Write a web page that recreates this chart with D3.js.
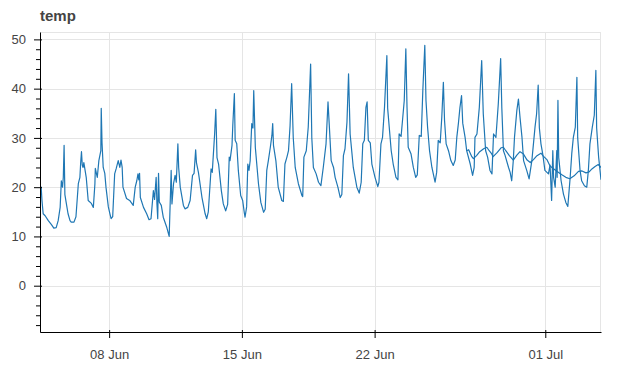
<!DOCTYPE html>
<html>
<head>
<meta charset="utf-8">
<script src="https://cdn.jsdelivr.net/npm/d3@7"></script>
<style>
  body { margin: 0; background: #fff; }
  svg { display: block; font-family: "Liberation Sans", Arial, sans-serif; }
</style>
</head>
<body>
<svg id="chart"></svg>
<script>
// hours are counted from 04 Jun 00:00
const startDate = new Date(2020, 5, 4);

const hours = [8.5,10,11,12.5,15,19,23,26,29,31.5,34,35.5,37,38,39,40,41.5,44,46.5,48,51.5,54,57,59,60,61,62,63,64,67,69.5,73.5,76,78,78.5,81,83,85.5,86,87,88.5,90.5,92,95,97,98.5,100.5,103,105,107.5,109.5,111,112.5,113.5,118,122,126.5,129,131,132.5,133.5,134.5,135.5,139.5,143.5,146.5,149,152,153.5,155.5,156.5,157.5,158.5,159.5,162,164.5,169,172,174.5,175.5,177.5,179.5,181,183,184,186,190,192,195.5,198.5,201.5,203.5,205.5,206.5,209,213.5,217.5,219.5,221.5,225,226.5,229.5,231,232.5,234.5,238,240.5,243.5,246,248,249,251.5,252.5,254.5,255.5,257.5,259.5,262.5,265,267,268,270,271.5,273,274.5,276.5,278,279,281,285,288,291.5,293.5,295.5,297.5,300,302,303,304,307,310,314.5,316.5,318.5,321,323,325,327,329,331.5,335.5,340,341,342.5,345.5,348,351,352.5,354.5,358,361,364,367,370.5,371.5,373,374.5,377,380,382,385.5,388.5,390.5,392.5,394.5,397,399,401,405,409.5,412.5,415,417,419,421,422.5,424,426.5,428.5,432.5,436,437.5,440,442,444.5,447.5,448.5,453,455.5,459,461.5,463,465.5,469.5,471.5,473,474.5,478,481,484,486,488.5,491,493,495.5,497,499,501.5,504.5,508.5,510.5,512.5,515,517,519,520.5,522.5,525.5,528.5,531.5,534,536,538,540,542,543.5,546.5,548.5,553,556,558,559,561.5,564.5,567.5,569.5,572.5,575,578,580.5,582.5,585.5,588.5,591.5,593,595,597,601.5,603.5,605.5,607.5,609,612,614,616,618.5,620.5,624.5,627.5,631,633,635,637,639,640.5,642.5,645,647.5,652,654,656,657.5,658.5,660.5,662.5,663,664,665,668,671,674,676.5,679.5,681.5,683.5,686,688,689,692,694,697.5,700.5,702.5,704.5,707.5,710,712,713,715.5,718.5];

const temps = [19.0,20.0,17.3,14.6,14.2,13.2,12.4,11.7,11.8,13.2,15.9,21.3,20,22,28.5,18.5,17,14.6,13.2,12.9,12.9,14,20.7,22,25,27.2,24.5,24,25,22,17.3,16.7,15.9,20.7,23.8,22,25.4,27.4,36,29,24,22.8,20,16,14.6,13.6,14,22.7,23.8,25.4,24,25.5,24,20,17.7,17.3,16.3,20,21.3,22.7,21.5,22.8,17.9,15.9,14.6,13.4,13.6,19.3,17.5,22,16.6,13.6,22.8,17,16.3,13.9,11.8,10.0,23.4,16.6,20.7,22.4,21,28.8,24,20,16.3,15.6,15.9,17.3,22.4,22.8,27.6,25,23,17.9,14.6,13.6,15,23.7,23,30.8,35.8,26,24.7,19.3,16.6,15.2,16.5,26.1,25.4,28.5,32.5,39,29.5,28.8,23.4,18.3,17.3,14.9,13.9,16,24.7,23.4,25.4,32.9,32,39.6,28.1,20.7,16.9,14.9,15.5,23.4,25.4,28.1,30.5,32.9,28.5,25.4,20,17.3,17.1,24.7,26.1,27.4,32.5,41,30.1,24,20.7,18.3,18.1,26.1,27.4,32.2,45,30,24,22.7,21,20.3,24,28.8,32.2,37.3,32.9,25.4,24,22,20,17.9,18.5,26.4,27.8,33.2,43,30.8,24,20,18.8,21,28.8,29.5,36.2,37.3,29.5,29,24.7,22,20.1,21,28.8,30.1,36.2,46.7,36,27.4,24.7,22,21.5,30.8,30.3,37.6,48.1,36.2,28.1,26.8,24,22,22.5,30.5,30.3,39.6,48.8,37.6,32.2,27.4,24,21,23,29.5,29,34.2,41.3,33.5,28.8,27.4,25.4,24.4,25.5,30.1,32.9,36.2,38.6,33,30.1,27.4,24.7,22.4,24,30.1,30.8,36.2,45.7,34.9,27.4,26.1,23.4,22.7,30.8,30.1,36.9,46.1,36,27.4,26.5,24,23,21.3,25.4,30.1,35.6,37.9,34.2,30.1,25.4,23.4,21.7,25.4,28.8,32.2,34.9,40.7,32,28.8,26.5,23.4,22.7,24.5,17.3,27.4,22,20,27.4,22,37.6,26,21.3,18.6,16.9,16.1,22,26.8,30.1,32.2,42.3,30,23.4,21.3,20.3,20,23.4,28.8,32.2,34.6,43.7,32,26.1,21.5];

// second, smoother trace from 27 Jun onwards
const hours2 = [548.5,551,555,557,561,565,570,574,577,580,582,587,592,595,598,602.5,607.5,612,616,620,625,629,633,637.5,642.5,645.5,650,654,658,663,669,674,679,684.5,690,694.5,699.5,703.5,707,711,715,718.5];
const temps2 = [27.4,27.6,26.2,25.8,26.4,27.2,27.8,28.1,27.4,26.8,26.2,27,28,28.1,27.4,26.4,25.5,26.5,27.2,26.8,25.5,25,25.6,26.4,26.9,26.3,25.6,24.3,23.8,23.2,22.5,22,21.7,22.3,23.2,23.3,22.9,23.1,23.7,24.2,24.6,24.0];

const xTickDates = ["2020-06-08", "2020-06-15", "2020-06-22", "2020-07-01"];
const yTicks = [0, 10, 20, 30, 40, 50];
const yRange = [-9.4, 51.5];
const chartTitle = "temp";

const width = 627, height = 371;
const margin = {top: 32, right: 26, bottom: 39, left: 40};

const svg = d3.select("#chart")
    .attr("width", width)
    .attr("height", height);

const toDate = h => d3.timeMinute.offset(startDate, Math.round(h * 60));
const mainData = hours.map((h, i) => ({t: toDate(h), v: temps[i]}));
const secondData = hours2.map((h, i) => ({t: toDate(h), v: temps2[i]}));
const parseDay = d3.timeParse("%Y-%m-%d");
const tickDates = xTickDates.map(parseDay);

const x = d3.scaleTime()
    .domain(d3.extent(mainData, d => d.t))
    .range([margin.left, width - margin.right]);

const y = d3.scaleLinear()
    .domain(yRange)
    .range([height - margin.bottom, margin.top]);

// grid
const grid = svg.append("g").attr("stroke", "#e5e5e5").attr("stroke-width", 1);
grid.selectAll(".hgrid")
    .data(yTicks)
    .enter()
    .append("line")
    .attr("x1", margin.left)
    .attr("x2", width - margin.right)
    .attr("y1", d => Math.round(y(d)) + 0.5)
    .attr("y2", d => Math.round(y(d)) + 0.5);
grid.selectAll(".vgrid")
    .data(tickDates)
    .enter()
    .append("line")
    .attr("y1", margin.top)
    .attr("y2", height - margin.bottom)
    .attr("x1", d => Math.round(x(d)) + 0.5)
    .attr("x2", d => Math.round(x(d)) + 0.5);

// plot outline
svg.append("rect")
    .attr("x", margin.left + 0.5)
    .attr("y", margin.top + 0.5)
    .attr("width", width - margin.left - margin.right - 1)
    .attr("height", height - margin.top - margin.bottom)
    .attr("fill", "none")
    .attr("stroke", "#e5e5e5");

// lines
svg.append("clipPath")
    .attr("id", "plotClip")
    .append("rect")
    .attr("x", margin.left)
    .attr("y", margin.top)
    .attr("width", width - margin.left - margin.right)
    .attr("height", height - margin.top - margin.bottom);

const line = d3.line()
    .x(d => x(d.t))
    .y(d => y(d.v));

const lines = svg.append("g").attr("clip-path", "url(#plotClip)");
[mainData, secondData].forEach(series => {
    lines.append("path")
        .datum(series)
        .attr("fill", "none")
        .attr("stroke", "#1f77b4")
        .attr("stroke-width", 1.2)
        .attr("stroke-linejoin", "round")
        .attr("d", line);
});

// x axis
const xAxis = d3.axisBottom(x)
    .tickValues(tickDates)
    .tickFormat(d3.timeFormat("%d %b"))
    .tickSizeInner(6)
    .tickSizeOuter(0)
    .tickPadding(12);

const gx = svg.append("g")
    .attr("transform", `translate(0, ${height - margin.bottom})`)
    .call(xAxis);
gx.selectAll(".tick line").attr("y1", -2);

// y axis, minor ticks first
const minorTicks = d3.range(-8, 51, 2).filter(v => v % 10 !== 0);
svg.append("g")
    .attr("transform", `translate(${margin.left}, 0)`)
    .call(d3.axisLeft(y).tickValues(minorTicks).tickSize(4).tickFormat(""))
    .call(g => g.select(".domain").remove());

const gy = svg.append("g")
    .attr("transform", `translate(${margin.left}, 0)`)
    .call(d3.axisLeft(y).tickValues(yTicks).tickSizeInner(6).tickSizeOuter(0).tickPadding(8));
gy.selectAll(".tick line").attr("x1", 2);

[gx, gy].forEach(g => {
    g.selectAll("text")
        .attr("fill", "#444")
        .style("font-size", "13px")
        .style("font-family", "Liberation Sans, Arial, sans-serif");
});

// title
svg.append("text")
    .attr("x", margin.left)
    .attr("y", 21)
    .attr("fill", "#444")
    .style("font-size", "15px")
    .style("font-weight", "bold")
    .text(chartTitle);
</script>
</body>
</html>
